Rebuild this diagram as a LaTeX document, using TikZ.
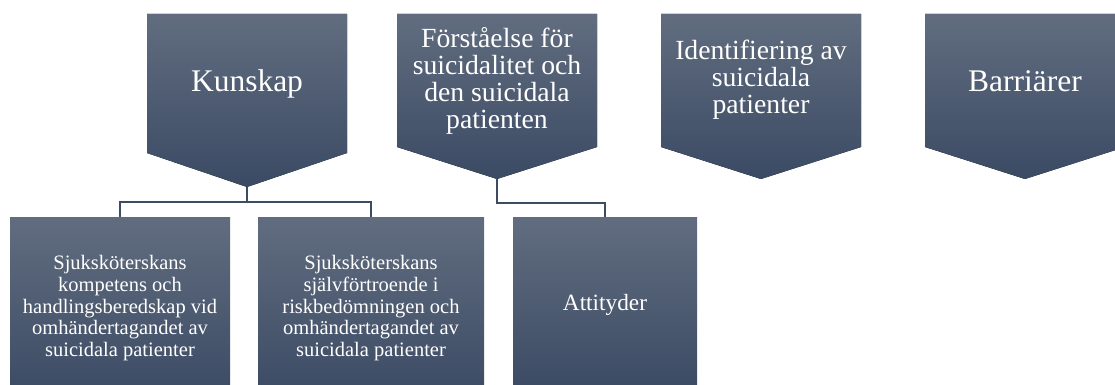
\documentclass[tikz,border=0pt]{standalone}
\usepackage{fontspec}
\setmainfont{Liberation Serif}
\definecolor{gtop}{HTML}{616D7F}
\definecolor{gbot}{HTML}{3B4A64}
\definecolor{conn}{HTML}{3D4B63}
\begin{document}
\begin{tikzpicture}[x=1pt,y=-1pt,
  pent/.style={top color=gtop,bottom color=gbot,draw=none},
  ptext/.style={text=white,align=center,inner sep=0pt},
  bigtxt/.style={font=\fontsize{31.5}{33}\selectfont},
  midtxt/.style={font=\fontsize{27.7}{26.9}\selectfont},
  smalltxt/.style={font=\fontsize{20.5}{21.6}\selectfont},
  attxt/.style={font=\fontsize{23.3}{24}\selectfont},
  leaf/.style={rectangle,top color=gtop,bottom color=gbot,draw=none,
    text=white,align=center,inner sep=0pt,minimum height=182pt},
  link/.style={draw=conn,line width=1.3pt}]
\useasboundingbox (0,0) rectangle (1115,385);
\clip (0,0) rectangle (1115,385);
% top pentagons
\fill[pent] (147,14) -- (347,14) -- (347,153) -- (247,187) -- (147,153) -- cycle;
\coordinate (ktip) at (247,187);
\node[ptext,bigtxt] (kun) at (247,84) {Kunskap};
\fill[pent] (397,14) -- (597,14) -- (597,147) -- (497,179) -- (397,147) -- cycle;
\coordinate (ftip) at (497,179);
\node[ptext,midtxt] (for) at (497,81) {Förståelse för\\suicidalitet och\\den suicidala\\patienten};
\fill[pent] (661,14) -- (861,14) -- (861,147) -- (761,179) -- (661,147) -- cycle;
\node[ptext,midtxt] (ide) at (761,80) {Identifiering av\\suicidala\\patienter};
\fill[pent] (925,14) -- (1125,14) -- (1125,147) -- (1025,179) -- (925,147) -- cycle;
\node[ptext,bigtxt] (bar) at (1025,81) {Barriärer};
% leaves
\node[leaf,smalltxt,minimum width=220pt,anchor=north] (l1) at (120,217)
  {Sjuksköterskans\\kompetens och\\handlingsberedskap vid\\omhändertagandet av\\suicidala patienter};
\node[leaf,smalltxt,minimum width=226pt,anchor=north] (l2) at (371,217)
  {Sjuksköterskans\\självförtroende i\\riskbedömningen och\\omhändertagandet av\\suicidala patienter};
\node[leaf,attxt,minimum width=184pt,minimum height=176pt,anchor=north] (l3) at (605,217) {Attityder};
% connectors
\draw[link] (ktip) -- ++(0,15) -| (l1.north);
\draw[link] (ktip) ++(0,15) -| (l2.north);
\draw[link] (ftip) -- ++(0,24) -| (l3.north);
\end{tikzpicture}
\end{document}
